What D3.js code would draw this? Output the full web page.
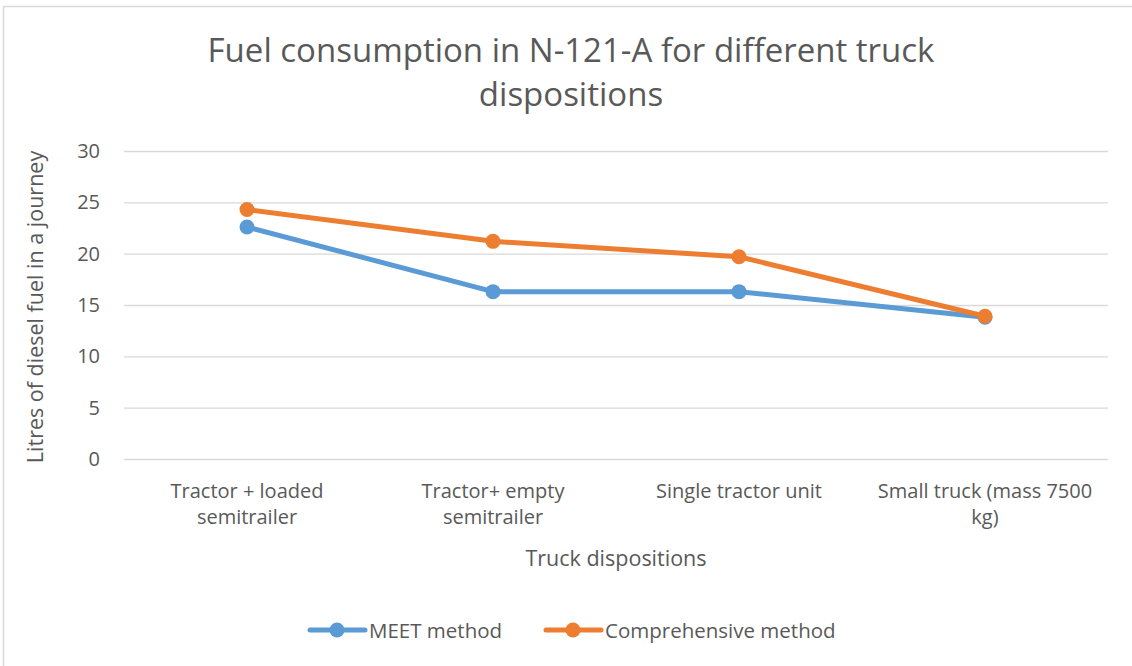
<!DOCTYPE html>
<html>
<head>
<meta charset="utf-8">
<script src="https://cdn.jsdelivr.net/npm/d3@7"></script>
<style>
  body { margin: 0; background: #fff; }
  svg text { font-family: "Open Sans", "Noto Sans", sans-serif; fill: #595959; }
</style>
</head>
<body>
<svg id="chart" width="1132" height="666"></svg>
<script>
// chart data
var categories = [
  ["Tractor + loaded", "semitrailer"],
  ["Tractor+ empty", "semitrailer"],
  ["Single tractor unit"],
  ["Small truck (mass 7500", "kg)"]
];
var meetValues = [22.6, 16.3, 16.3, 13.8];
var comprehensiveValues = [24.3, 21.2, 19.7, 13.9];
var seriesNames = ["MEET method", "Comprehensive method"];
var yTicks = [0, 5, 10, 15, 20, 25, 30];

var svg = d3.select('#chart');
var svgWidth = +svg.attr('width');
var svgHeight = +svg.attr('height');

var plot = {l: 124, r: 1108, t: 151, b: 459};
var colors = ['#5B9BD5', '#ED7D31'];

// chart border (only top/left visible in the crop)
svg.append('rect')
    .attr('x', 3.5).attr('y', 6.5)
    .attr('width', svgWidth + 20).attr('height', svgHeight + 20)
    .attr('fill', 'none')
    .attr('stroke', '#d9d9d9')
    .attr('stroke-width', 1.5);

var x = d3.scaleBand()
    .domain(d3.range(categories.length))
    .range([plot.l, plot.r]);

var y = d3.scaleLinear()
    .domain([0, 30])
    .range([plot.b, plot.t]);

// title
var title = svg.append('text')
    .attr('text-anchor', 'middle')
    .style('font-size', '33px');
title.append('tspan').attr('x', 571).attr('y', 62).text('Fuel consumption in N-121-A for different truck');
title.append('tspan').attr('x', 571).attr('y', 106).text('dispositions');

// y axis with gridlines
var yAxis = d3.axisLeft(y)
    .tickValues(yTicks)
    .tickSize(-(plot.r - plot.l))
    .tickPadding(24);

var yG = svg.append('g')
    .attr('transform', 'translate(' + plot.l + ',0)')
    .call(yAxis);
yG.select('.domain').remove();
yG.selectAll('.tick line').attr('stroke', '#d9d9d9').attr('stroke-width', 1.3);
yG.selectAll('.tick text')
    .style('font-size', '20px')
    .style('font-family', '"Open Sans", sans-serif')
    .attr('fill', '#595959');

// x labels
var xG = svg.append('g');
xG.selectAll('text.cat')
    .data(categories)
    .enter()
    .append('text')
    .attr('class', 'cat')
    .attr('text-anchor', 'middle')
    .style('font-size', '20px')
    .each(function(d, i) {
        var t = d3.select(this);
        d.forEach(function(line, j) {
            t.append('tspan')
                .attr('x', x(i) + x.bandwidth() / 2)
                .attr('y', 498 + j * 26)
                .text(line);
        });
    });

// axis titles
svg.append('text')
    .attr('text-anchor', 'middle')
    .attr('transform', 'translate(43,' + ((plot.t + plot.b) / 2 + 2) + ') rotate(-90)')
    .style('font-size', '21.5px')
    .text('Litres of diesel fuel in a journey');

svg.append('text')
    .attr('text-anchor', 'middle')
    .attr('x', (plot.l + plot.r) / 2)
    .attr('y', 566)
    .style('font-size', '21.5px')
    .text('Truck dispositions');

// series
var series = [meetValues, comprehensiveValues];
var line = d3.line()
    .x(function(d, i) { return x(i) + x.bandwidth() / 2; })
    .y(function(d) { return y(d); });

series.forEach(function(vals, s) {
    var g = svg.append('g');
    g.append('path')
        .datum(vals)
        .attr('d', line)
        .attr('fill', 'none')
        .attr('stroke', colors[s])
        .attr('stroke-width', 5)
        .attr('stroke-linejoin', 'round')
        .attr('stroke-linecap', 'round');
    g.selectAll('circle')
        .data(vals)
        .enter()
        .append('circle')
        .attr('cx', function(d, i) { return x(i) + x.bandwidth() / 2; })
        .attr('cy', function(d) { return y(d); })
        .attr('r', 7.5)
        .attr('fill', colors[s]);
});

// legend
var legendX = [310, 546];
var legend = svg.append('g');
seriesNames.forEach(function(name, s) {
    var lg = legend.append('g').attr('transform', 'translate(' + legendX[s] + ',630)');
    lg.append('line')
        .attr('x1', 0).attr('x2', 55)
        .attr('stroke', colors[s])
        .attr('stroke-width', 5)
        .attr('stroke-linecap', 'round');
    lg.append('circle').attr('cx', 27).attr('r', 7.5).attr('fill', colors[s]);
    lg.append('text')
        .attr('x', 59).attr('y', 7.5)
        .style('font-size', '20.5px')
        .text(name);
});
</script>
</body>
</html>
